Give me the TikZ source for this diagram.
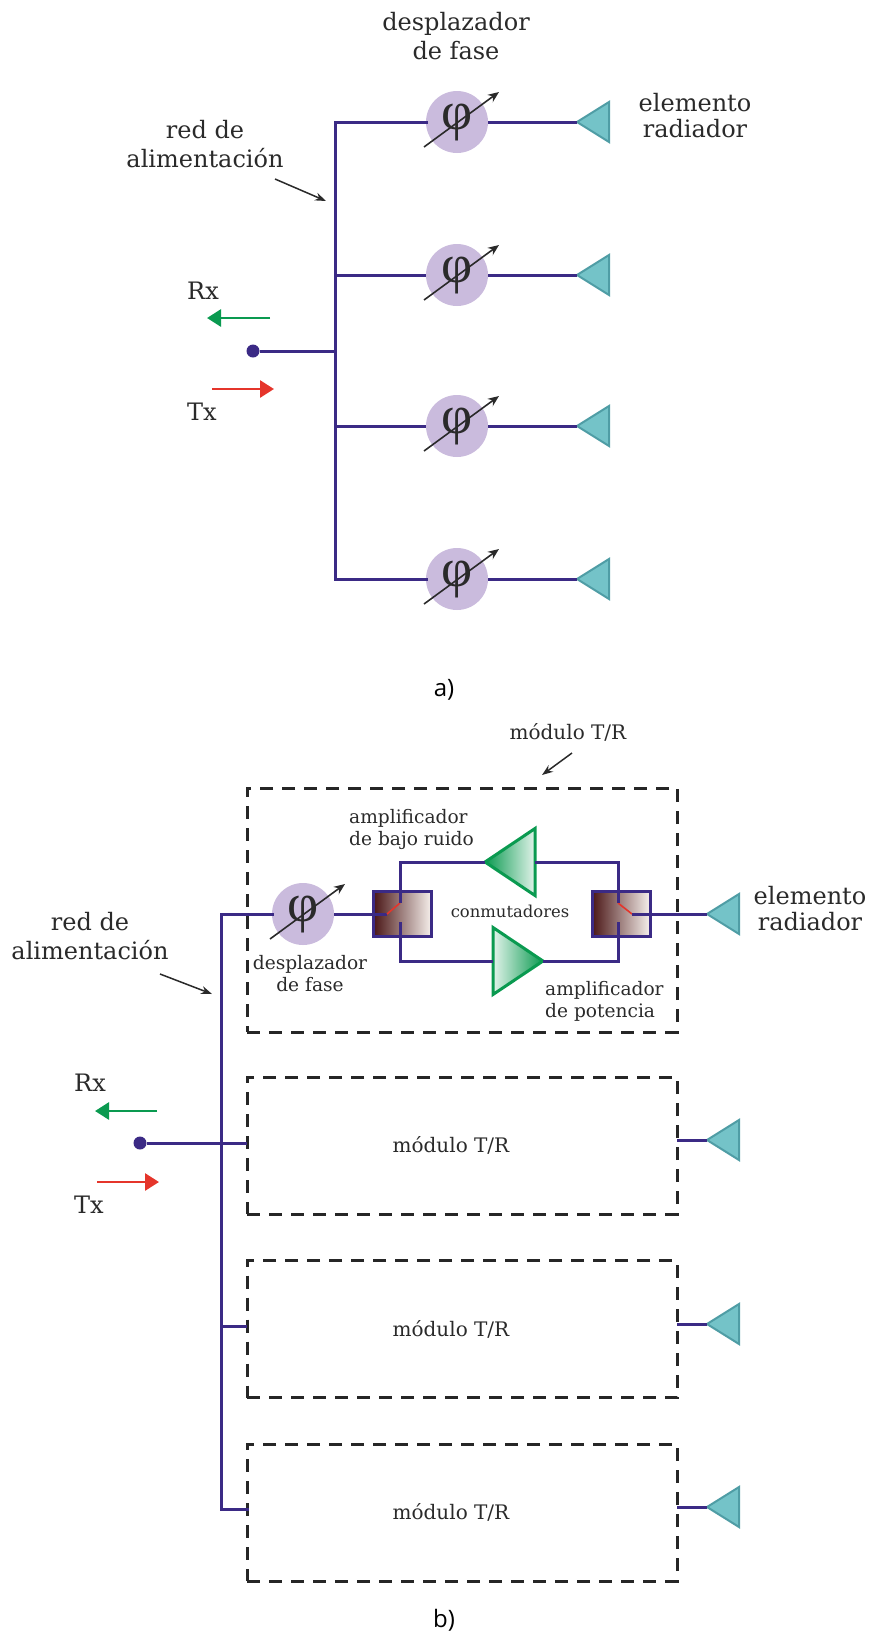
\documentclass[tikz,border=0pt]{standalone}
\usepackage{fontspec}
\setmainfont{DejaVu Serif}
\newfontfamily\capfont{Open Sans}
\newfontfamily\phifont{Liberation Serif}
\usetikzlibrary{arrows.meta,shapes.geometric}
\definecolor{feedcol}{HTML}{3B2A85}
\definecolor{phasecol}{HTML}{CABBDD}
\definecolor{antfill}{HTML}{74C3C8}
\definecolor{antline}{HTML}{4F9DA5}
\definecolor{ampcol}{HTML}{0A9A50}
\definecolor{txcol}{HTML}{E5352B}
\definecolor{swdark}{HTML}{4A1616}
\definecolor{swlight}{HTML}{F6F0EC}
\definecolor{inkcol}{HTML}{2A2A2A}
\tikzset{
  feed/.style={draw=feedcol,line width=3pt},
  phase/.style={circle,fill=phasecol,minimum size=62pt,inner sep=0pt,outer sep=0pt,text=inkcol,
    text height=14pt,text depth=0pt,font=\phifont\fontsize{54}{54}\selectfont},
  tuning/.style={draw=inkcol,line width=1.6pt,-{Stealth[length=11pt,width=9pt]}},
  antenna/.style={isosceles triangle,isosceles triangle stretches,shape border rotate=180,anchor=apex,outer sep=0pt,
    minimum width=40pt,minimum height=32pt,inner sep=0pt,fill=antfill,draw=antline,line width=2pt},
  amp/.style={isosceles triangle,isosceles triangle stretches,minimum width=67pt,minimum height=50pt,outer sep=0pt,
    inner sep=0pt,draw=ampcol,line width=3pt},
  switchbox/.style={draw=feedcol,line width=3pt,minimum width=58pt,minimum height=45pt,inner sep=0pt,outer sep=0pt,
    left color=swdark,right color=swlight},
  modbox/.style={draw=black!85,line width=3pt,dash pattern=on 13pt off 9pt,minimum width=430pt,inner sep=0pt,outer sep=0pt},
  modlabel/.style={text=inkcol,inner sep=0pt,font=\fontsize{20}{24}\selectfont},
  biglabel/.style={text=inkcol,inner sep=0pt,align=center,font=\fontsize{24}{29}\selectfont},
  smalllabel/.style={text=inkcol,inner sep=0pt,align=left,font=\fontsize{18.6}{22}\selectfont},
  caplabel/.style={text=black,inner sep=0pt,font=\capfont\fontsize{24}{28}\selectfont},
  note/.style={draw=inkcol,line width=1.5pt,-{Stealth[length=11pt,width=8pt]}},
  rxarrow/.style={draw=ampcol,line width=2.8pt,-{Triangle[length=14pt,width=17pt]}},
  txarrow/.style={draw=txcol,line width=2.8pt,-{Triangle[length=14pt,width=17pt]}}
}
\begin{document}
\begin{tikzpicture}[x=1pt,y=-1pt]
\useasboundingbox (0,0) rectangle (871,1636);
% a) passive array
\node[biglabel] (shiftlabel) at (456,36) {desplazador\\de fase};
\node[biglabel,font=\fontsize{24}{26}\selectfont] (radlabel) at (695,116) {elemento\\radiador};
\node[biglabel] (feedlabel) at (205,144) {red de\\alimentación};
\coordinate (feedtip) at (326,201);
\coordinate (feedtail) at (275,179);
\draw[note] (feedtail) -- (feedtip);
\node[circle,fill=feedcol,minimum size=13pt,inner sep=0pt] (dota) at (253,351) {};
\coordinate (busa) at (335,351);
\draw[feed] (dota) -- (busa);
\foreach \n/\y in {1/122,2/275,3/426,4/579}{
  \node[phase] (phase\n) at (457,\y) {φ};
  \node[antenna] (ant\n) at (577,\y) {};
  \draw[feed] (phase\n) -- (ant\n.apex);
  \draw[tuning] ([shift={(-33,25)}]phase\n.center) -- ([shift={(42,-30)}]phase\n.center);
}
\draw[feed,line cap=rect] (phase1.west) -| (busa) |- (phase4.west);
\draw[feed] (busa |- phase2) -- (phase2);
\draw[feed] (busa |- phase3) -- (phase3);
\node[biglabel] (rxa) at (203,291) {Rx};
\node[biglabel] (txa) at (202,412) {Tx};
\coordinate (rxastart) at (270,318);
\coordinate (rxaend) at (207,318);
\coordinate (txastart) at (212,389);
\coordinate (txaend) at (274,389);
\draw[rxarrow] (rxastart) -- (rxaend);
\draw[txarrow] (txastart) -- (txaend);
\node[caplabel] (capa) at (444,690) {a)};
% b) active array
\node[modlabel] (modtop) at (568,732) {módulo T/R};
\coordinate (modtail) at (572,753);
\coordinate (modtip) at (542,775);
\draw[note] (modtail) -- (modtip);
\node[modbox,minimum height=244pt] (mod1) at (462,910) {};
\foreach \n/\y in {2/1145.5,3/1329,4/1512.5}{
  \node[modbox,minimum height=137pt] (mod\n) at (462,\y) {};
  \node[modlabel] (modtext\n) at (451,\y) {módulo T/R};
}
\node[switchbox] (swl) at (402.5,913.5) {};
\node[switchbox] (swr) at (621,913.5) {};
\node[phase] (phaseb) at (303,914) {φ};
\draw[tuning] ([shift={(-33,25)}]phaseb.center) -- ([shift={(42,-30)}]phaseb.center);
\node[antenna] (antb1) at (707,914) {};
\node[antenna] (antb2) at (707,1140) {};
\node[antenna] (antb3) at (707,1324) {};
\node[antenna] (antb4) at (707,1507) {};
\node[amp,shape border rotate=180,anchor=apex,right color=ampcol!12,left color=ampcol] (lna) at (485,862) {};
\node[amp,anchor=apex,left color=ampcol!12,right color=ampcol] (pa) at (543,961) {};
% switch contacts
\coordinate (swlin) at (387,914);
\coordinate (swlup) at (400,903);
\coordinate (swldn) at (400,922);
\coordinate (swrout) at (632,914);
\coordinate (swrup) at (618,903);
\coordinate (swrdn) at (618,922);
\draw[feed] (phaseb.east) -- (swlin);
\draw[txcol,line width=1.6pt] (swlin) -- (swlup);
\draw[txcol,line width=1.6pt] (swrout) -- (swrup);
\draw[feed] (swlup) |- (lna.apex);
\draw[feed] (swldn) |- (pa.west);
\draw[feed] (swrup) |- (lna.east);
\draw[feed] (swrdn) |- (pa.apex);
\draw[feed] (swrout) -- (antb1.apex);
% feed line
\coordinate (busb) at (221,1143);
\node[circle,fill=feedcol,minimum size=13pt,inner sep=0pt] (dotb) at (140,1143) {};
\coordinate (stub3) at (247,1326);
\coordinate (stub4) at (247,1509);
\draw[feed] (dotb) -- (dotb -| mod2.west);
\draw[feed,line cap=rect] (phaseb.west) -| (busb) |- (stub4);
\draw[feed] (busb |- stub3) -- (stub3);
\foreach \n in {2,3,4}{
  \draw[feed] (antb\n.apex) -- (antb\n.apex -| mod\n.east);
}
% labels
\node[smalllabel,anchor=west] (lnalabel) at (349,829) {amplificador\\de bajo ruido};
\node[smalllabel,anchor=west] (palabel) at (545,1001) {amplificador\\de potencia};
\node[smalllabel,font=\fontsize{16.4}{20}\selectfont] (swlabel) at (510,911) {conmutadores};
\node[smalllabel,align=center] (shiftb) at (310,974) {desplazador\\de fase};
\node[biglabel,font=\fontsize{24}{26}\selectfont] (radb) at (810,909) {elemento\\radiador};
\node[biglabel] (feedb) at (90,936) {red de\\alimentación};
\coordinate (fbtail) at (160,974);
\coordinate (fbtip) at (212,994);
\draw[note] (fbtail) -- (fbtip);
\node[biglabel] (rxb) at (90,1083) {Rx};
\node[biglabel] (txb) at (89,1205) {Tx};
\coordinate (rxbstart) at (157,1111);
\coordinate (rxbend) at (95,1111);
\coordinate (txbstart) at (97,1182);
\coordinate (txbend) at (159,1182);
\draw[rxarrow] (rxbstart) -- (rxbend);
\draw[txarrow] (txbstart) -- (txbend);
\node[caplabel] (capb) at (444,1620) {b)};
\end{tikzpicture}
\end{document}
